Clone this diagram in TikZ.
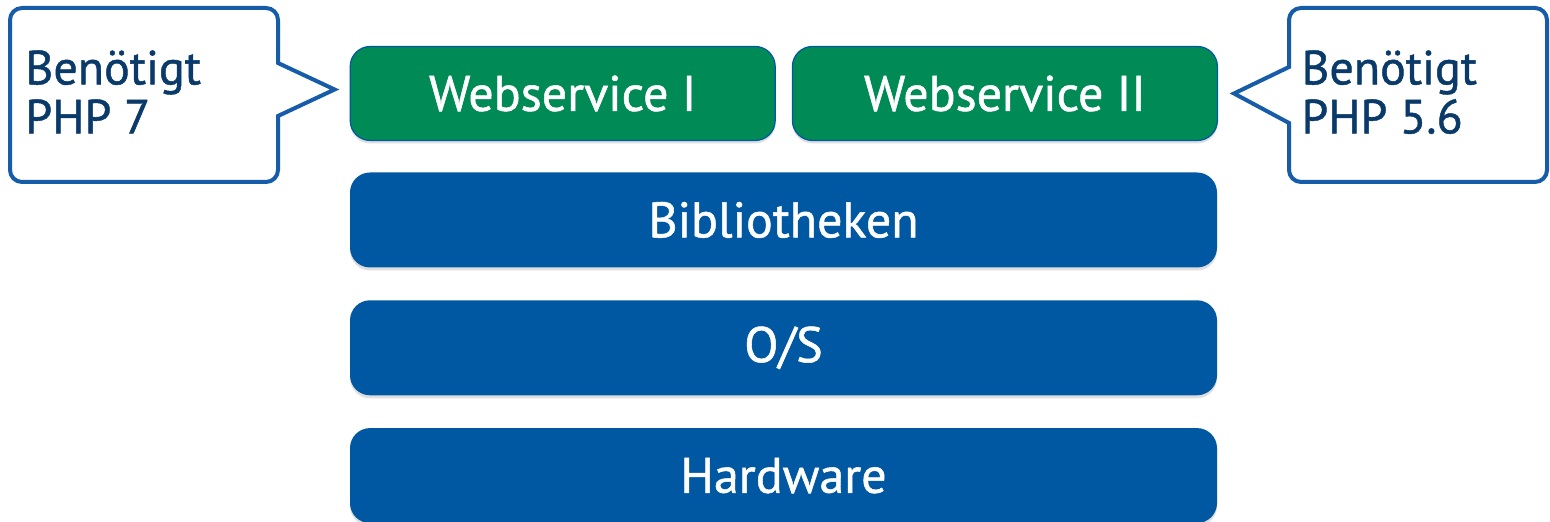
\documentclass[tikz,border=0pt]{standalone}
\usepackage{fontspec}
\setmainfont{PT Sans}[FakeBold=1]
\usepackage{xcolor}
\usetikzlibrary{positioning,shadows}

\definecolor{wsgreen}{RGB}{0,138,86}
\definecolor{layerblue}{RGB}{0,88,163}
\definecolor{noteblue}{RGB}{22,92,168}
\definecolor{notetext}{RGB}{10,58,105}

\begin{document}
\begin{tikzpicture}[x=0.5pt,y=-0.5pt,node distance=16pt,
    layer/.style={rounded corners=10pt,fill=layerblue,text=white,inner sep=0pt,
        minimum width=433.5pt,minimum height=47.5pt,font=\fontsize{25}{30}\selectfont,
        drop shadow={opacity=0.25,shadow xshift=0pt,shadow yshift=-1.5pt}},
    service/.style={layer,fill=wsgreen,draw=layerblue,line width=0.6pt,minimum width=212.5pt,minimum height=47pt},
    note/.style={draw=noteblue,line width=2pt,fill=white,rounded corners=6pt},
    note text/.style={anchor=north west,inner sep=0pt,align=left,text=notetext,font=\fontsize{24}{24.5}\selectfont}]

    \useasboundingbox (0,0) rectangle (1550,522);

    % layer stack
    \node[layer] (lib) at (783.5,220) {Bibliotheken};
    \node[layer] (os) [below=of lib] {O/S};
    \node[layer] (hw) [below=of os] {Hardware};

    % services on top
    \node[service] (ws1) [above right=15.5pt and 0pt of lib.north west] {Webservice I};
    \node[service] (ws2) [right=8pt of ws1] {Webservice II};

    % callouts
    \coordinate (tipL) at ([xshift=-7.5pt,yshift=2pt]ws1.west);
    \coordinate (tipR) at ([xshift=8pt]ws2.east);
    \draw[note] (144,8) -- (278,8) -- (278,35) [sharp corners] -- (278,63) -- (tipL) -- (278,116)
        -- (278,150) [rounded corners=6pt] -- (278,182) -- (10,182) -- (10,8) -- cycle;
    \draw[note] (1418,8) -- (1547,8) -- (1547,182) -- (1289,182) -- (1289,150) [sharp corners] -- (1289,123)
        -- (tipR) -- (1289,67) -- (1289,35) [rounded corners=6pt] -- (1289,8) -- cycle;
    \node[note text] (needL) at (25,50) {Benötigt\\PHP 7};
    \node[note text] (needR) at (1301,50) {Benötigt\\PHP 5.6};
\end{tikzpicture}
\end{document}
